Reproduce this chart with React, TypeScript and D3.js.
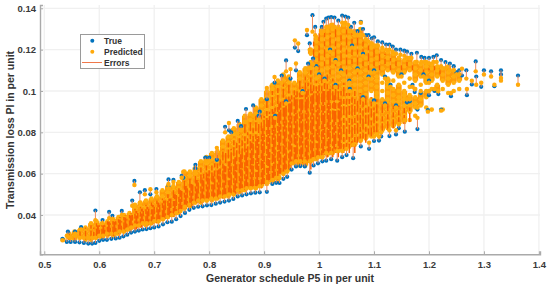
import React, { useRef, useEffect } from "react";
import * as d3 from "d3";

// losses are kept in milli per unit
const xTicks = [0.5, 0.6, 0.7, 0.8, 0.9, 1, 1.1, 1.2, 1.3, 1.4];
const yTicks = [40, 60, 80, 100, 120, 140];
const legendLabels = ["True", "Predicted", "Errors"];

// [P5, true, predicted] for points whose markers can be seen on the rim of the cloud
const lowerRim = [
  [.541,27,30],[.548,27,29],[.556,27,30],[.564,26.8,29],[.572,26.5,29],[.58,26.2,29],[.587,26.2,29],[.593,26.5,29],[.6,27.5,30],[.607,28,30],
  [.614,28,31],[.622,28.5,31],[.63,28.7,31],[.637,29,32],[.644,29.7,32],[.651,30.5,33],[.658,31.5,34],[.665,32,35],[.672,32.5,35],[.679,33,36],
  [.686,33.2,36],[.693,33.6,36],[.7,34,37],[.708,34.5,37],[.716,35.5,38],[.724,36.5,39],[.732,36.8,40],[.74,38,41],[.748,39.5,42],[.756,41,44],
  [.764,42.5,45],[.772,43.5,46],[.78,44,47],[.788,44.2,47],[.796,44.7,47],[.804,44.8,48],[.812,45.5,48],[.82,46,49],[.828,46.5,49],[.836,47,50],
  [.844,47.8,50],[.852,49,52],[.86,49.5,52],[.868,50,53],[.876,50.5,53],[.884,50.8,53],[.892,51,54],[.905,51.2,56],[.915,55,57],[.922,55.6,58],
  [.928,55.5,58],[.935,57.5,60],[.942,58.5,61],[.95,62,65],[.958,63.5,66],[.966,63.7,66],[.974,63.5,66],[.983,60.5,66],[.99,64,67],[.998,65,68],
  [1.006,66,68],[1.013,66.3,70],[1.022,67,70],[1.033,66.3,71],[1.042,68,71],[1.05,69,72],[1.062,67.5,74],[1.076,73.2,76],[1.091,72,75],[1.1,75.8,78],
  [1.109,76,78],[1.113,78,80],[1.128,78.2,81],[1.14,79,81],[1.145,82,84],[1.156,80.3,86],[1.179,81.6,87],[1.179,91,92],[1.198,90.7,90],[1.222,91,90.5],
  [1.16,94.5,96],[1.174,99.5,101],[1.2,98,100],[1.217,98.5,100],[1.24,97.5,99],[1.269,98,101],[1.278,103.2,105],[1.295,102,104],[1.319,102.3,103],
];

const upperRim = [
  [.983,123,120],[.993,131,127],[.988,136.7,128.7],[1.005,131,128],[1.008,133.5,129],[1.013,135,131],[1.017,135.5,131],[1.022,135.7,132],[1.028,135.5,131],
  [1.035,134,130],[1.042,136.5,133],[1.048,136,133],[1.053,135.5,132],[1.058,131,129],[1.064,133,128],[1.07,129,127],[1.076,133.5,133],[1.08,130,127],
  [1.085,127,125],[1.09,127,124],[1.096,125.5,123],[1.1,126,122],[1.107,124,122],[1.115,123.5,121],[1.122,122.5,120],[1.128,122.5,120],[1.134,121.5,119],
  [1.14,120,118],[1.148,120,117.5],[1.155,119.5,117],[1.16,119,116],[1.168,118,116],[1.178,118.5,114],[1.186,116.5,114],[1.192,116,114],[1.2,116,113.5],
  [1.208,116.5,114],[1.214,117.3,114],[1.222,115,112],[1.23,114,111],[1.238,113.3,110],[1.245,112,110],[1.255,110,108],
  [.98,113.2,111],[.989,115.7,113],[.962,119.3,123],[.956,121,124.5],[.978,127,129.5],[.94,114.8,109.5],[.958,110,113.3],[.948,106,110.6],[.932,107.5,104],[.919,104,106.8],
];

const leftRim = [
  [.829,82.7,80],[.836,81,84.5],[.84,80,78],[.852,85.5,79.5],[.858,83,81],[.867,91.3,85],[.88,93,88],[.892,90,85.8],[.89,88,86],[.905,96,101.5],
  [.793,67.8,66],[.8,67.8,66],[.814,66.7,72.5],[.775,64.3,61],[.775,62.5,60],[.753,58,61],[.75,59,58],[.726,57.2,55],[.735,57,56],[.726,54,53],
  [.704,52.6,51],[.693,50,52.5],[.683,52,50],[.674,51,46],[.664,56.5,54.5],[.66,47,44.5],[.641,42,40],[.618,41.5,38.5],[.624,39.6,38],[.593,42.2,37.5],
  [.606,37.6,36],[.567,34.2,33],[.556,32,31],[.543,32,29.5],[.533,28.5,27.8],
];

const outerRight = [
  [1.362,107.5,103],[1.331,110,106.3],[1.331,108,105],[1.313,109.5,107],[1.3,110,108],[1.285,114.3,109.5],[1.286,107,103],[1.268,110,106],[1.26,107.5,110.8],[1.25,109,108],
];

// markers of true values that show through inside the cloud
const innerSpecks = [
  [1,108,107],[1.01,106,105],[1.03,103,102],[1.056,101,100],[1.08,97,96],[1.1,95.5,94],[1.12,94,93],[1.14,93,92],[1.04,110,109],[1.055,105,104],
  [1.07,111,110],[1.09,107,106],[1.1,110,109],[1.12,107,106],[1.13,103,102],[1.15,108,107],[1.17,103,102],[1.19,108,107],[1.2,105,104],[1.21,100,101],
  [1.02,120,119],[1.03,115,114],[1.06,122,121],[1.08,118,117],[.995,112,111],[.97,100,99],[.94,95,94],[.92,88,87],[1.165,95,96],[1.185,99,100],
];

const coreX = [.535,.545,.555,.565,.575,.585,.595,.605,.615,.625,.635,.645,.655,.665,.675,.685,.695,.705,.715,.725,.735,.745,.755,.765,.775,.785,.795,.805,.815,.825,.835,.845,.855,.865,.875,.885,.895,.905,.915,.925,.935,.945,.955,.965,.975,.985,.995,1.005,1.015,1.025,1.035,1.045,1.055,1.065,1.075,1.085,1.095,1.105,1.115,1.125,1.135,1.145,1.155,1.165,1.175,1.185,1.195,1.205,1.215,1.225,1.235,1.245,1.255];

// predicted markers in each column of the cloud
const corePred = [
  [28],
  [29,31],
  [28,30,32],
  [29,31,33],
  [28,30,32,34],
  [28,31,34,36],
  [29,32,35,37],
  [29,31,34,36],
  [30,32,35,37],
  [30,33,36,38],
  [31,34,37,39],
  [32,35,38,40],
  [33,36,39,41],
  [34,37,40,43,45],
  [35,38,41,44,46],
  [35,38,41,44,47],
  [36,39,42,45,48],
  [37,40,43,46,49],
  [38,41,44,47,49,52],
  [39,42,45,48,51,54],
  [40,43,46,49,52,54],
  [41,44,47,50,53,56],
  [43,46,49,52,55,58,61],
  [44,47,50,53,56,59,61],
  [46,49,52,55,58,60,63],
  [46,49,52,55,58,61,63,66],
  [47,50,53,56,59,62,65,68],
  [47,50,53,56,59,62,64,67,70],
  [48,51,54,57,60,63,66,68,71],
  [49,52,55,58,61,64,67,70,73,76],
  [49,52,55,58,61,64,67,70,72,75,78],
  [50,53,56,59,62,65,68,71,74,76,79,82],
  [51,54,57,60,63,66,69,72,75,78,81,84],
  [52,55,58,61,64,67,70,73,76,79,82,85,88],
  [53,56,59,62,65,68,71,74,77,80,83,86,89],
  [53,56,59,62,65,68,71,74,77,80,83,86,89,92],
  [54,57,60,63,66,69,72,75,78,81,84,87,90,93,96],
  [55,58,61,64,67,70,73,76,79,82,85,88,91,94,97,100],
  [56,59,62,65,68,71,74,77,80,83,86,89,92,95,98,101,103],
  [57,60,63,66,69,72,75,78,81,84,87,90,93,96,99,102,105],
  [60,63,66,69,72,75,78,81,84,87,90,93,96,99,102,105,108],
  [62,65,68,71,74,77,80,83,86,89,92,95,98,101,104,107],
  [65,68,71,74,77,80,83,86,89,92,95,98,101,104],
  [64,67,70,73,76,79,82,85,88,91,94,97,100,103,106,109],
  [64,67,70,73,76,79,82,85,88,91,94,97,100,103,106,109,111],
  [66,69,72,75,78,81,84,87,90,93,96,99,102,105,108,111,114,118,120],
  [67,70,73,76,79,82,85,88,91,94,97,100,103,106,109,112,115,118,121,124,126],
  [68,71,74,77,80,83,86,89,92,95,98,101,104,107,110,113,116,119,122,125,128,130],
  [69,72,75,78,81,84,87,90,93,96,99,102,105,108,111,114,117,120,123,126,129,131],
  [70,73,76,79,82,85,88,91,94,97,100,103,106,109,112,115,118,121,124,127,130,132],
  [71,74,77,80,83,86,89,92,95,98,101,104,107,110,113,116,119,122,125,128,131],
  [72,75,78,81,84,87,90,93,96,99,102,105,108,111,114,117,120,123,126,129,132],
  [73,76,79,82,85,88,91,94,97,100,103,105,108,111,114,117,120,123,126,129,131],
  [74,77,80,83,86,89,92,95,98,100,103,106,109,112,115,118,121,124,127,129],
  [76,79,82,85,88,91,94,97,100,103,106,109,112,115,118,121,124,127,130],
  [77,80,83,86,89,92,95,98,101,104,107,110,113,116,119,122,125],
  [78,81,84,87,90,93,96,100,103,106,109,112,115,118,121,123],
  [79,82,85,88,91,94,97,99,102,105,107,110,113,116,119,122],
  [81,84,87,90,93,96,100,104,108,111,114,117,120],
  [82,85,88,91,94,96,99,102,104,106,110,113,116,119],
  [83,86,89,92,95,98,101,105,109,112,115,118],
  [84,87,90,93,95,97,100,103,107,110,113,116],
  [85,88,91,93,96,98,100,104,109,112,115],
  [86,90,93,95,98,102,106,110,113,116],
  [88,92,94,97,101,105,108,111,114],
  [93,96,99,103,107,110,113],
  [92,97,100,104,106,109,112,114],
  [91,101,105,108,111,113],
  [100,103,107,110,112],
  [91,101,105,108,111],
  [99,103,106,109,112],
  [100,104,107,110],
  [101,105,108],
];

// vertical error streaks in the dense parts of the cloud
const streakX = [.545,.555,.565,.575,.585,.595,.605,.615,.625,.635,.645,.655,.665,.675,.685,.695,.705,.715,.725,.735,.745,.755,.765,.775,.785,.795,.805,.815,.825,.835,.845,.855,.865,.875,.885,.895,.905,.915,.925,.935,.945,.955,.965,.975,.985,.995,1.005,1.015,1.025,1.035,1.045,1.055,1.065,1.075,1.085,1.095,1.105,1.115,1.125,1.135,1.145,1.155,1.165];
const streakLow = [28,28,28,28,28,29,29,30,30,31,32,33,33,34,35,35,36,38,39,39,41,43,44,46,46,47,47,48,48,49,50,51,52,53,53,53,55,56,57,60,62,65,64,63,62,67,67,68,68,68,70,70,70,75,75,78,80,80,81,82,83,84,85];
const streakHigh = [31,32,33,34,35,36,36,37,38,38,39,40,43,44,45,46,47,48,50,52,53,58,58,60,63,65,65,69,72,75,78,80,84,85,88,90,96,100,103,105,103,102,105,107,110,105,108,108,106,105,104,102,100,99,98,97,96,94,94,93,93,92,92];

const denseX = [.59,.6,.61,.62,.63,.64,.65,.66,.67,.68,.69,.7,.71,.72,.73,.74,.75,.76,.77,.78,.79,.8,.81,.82,.83,.84,.85,.86,.87,.88,.89,.9,.91,.92,.93,.94,.95,.96,.97,.98,.99,1,1.01,1.02,1.03,1.04,1.05,1.06,1.07,1.08,1.09,1.1];
const denseLow = [29,30,30,31,31,32,33,33,34,35,35,36,37,38,39,40,42,44,45,46,47,48,48,49,50,50,51,52,53,54,54,55,57,58,60,62,64,65,65,66,68,68,69,70,70,72,72,73,75,77,79,80];
const denseHigh = [34,35,35,36,37,37,38,40,41,42,43,44,45,47,48,50,52,53,55,57,60,62,65,67,70,72,75,78,80,82,84,88,90,92,96,98,98,100,102,104,103,104,104,102,102,100,99,97,96,95,94,92];

const bandX = [.5975,.6075,.6175,.6275,.6375,.6475,.6575,.6675,.6775,.6875,.6975,.7075,.7175,.7275,.7375,.7475,.7575,.7675,.7775,.7875,.7975,.8075,.8175,.8275,.8375,.8475,.8575,.8675,.8775,.8875,.8975,.9075,.9175,.9275,.9375,.9475,.9575,.9675,.9775,.9875,.9975,1.0075,1.0175,1.0275,1.0375];
const bandLow = [29,29,30,30,31,32,33,33,34,35,36,36,38,39,40,41,43,44,46,46,47,48,48,49,50,50,51,52,53,54,55,56,58,60,62,64,66,66,66,68,68,70,70,72,72];
const bandHigh = [35,36,37,38,39,40,41,42,43,44,45,46,47,48,50,52,54,55,57,58,60,60,62,64,66,68,70,72,75,78,82,86,90,94,96,96,98,100,100,100,100,100,100,98,96];

const upperX = [.99,1,1.01,1.02,1.03,1.04,1.05,1.06,1.07,1.08,1.09,1.1,1.11,1.12,1.13,1.14,1.15,1.16,1.17,1.18,1.19,1.2,1.21,1.22];
const upperLow = [112,110,112,108,112,110,108,113,108,112,110,112,110,113,110,112,110,112,110,112,108,110,110,108];
const upperHigh = [124,128,130,128,131,127,130,128,128,124,122,121,118,118,116,116,114,114,113,112,112,111,112,110];

const W = 550;
const H = 288;
const BLUE = "#0072bd";
const YELLOW = "#ffa90a";
const RED = "#f96200";
const font = "'Liberation Sans', Arial, sans-serif";

const App = () => {
  const svgRef = useRef<SVGSVGElement | null>(null);

  useEffect(() => {
    const svg = d3.select(svgRef.current);
    svg.selectAll("*").remove();

    const x = d3.scaleLinear().domain([0.4922, 1.402]).range([40, 540]);
    const y = d3.scaleLinear().domain([21, 141.6]).range([254.3, 5]);

    // grid
    const grid = svg.append("g").attr("stroke", "#f0f0f0").attr("stroke-width", 1.3);
    xTicks.forEach((t) => grid.append("line").attr("x1", x(t)).attr("x2", x(t)).attr("y1", y(21)).attr("y2", y(141.6)));
    yTicks.forEach((t) => grid.append("line").attr("x1", x(0.4922)).attr("x2", x(1.402)).attr("y1", y(t)).attr("y2", y(t)));

    // axes
    const xAxis = svg
      .append("g")
      .attr("transform", "translate(0,254.3)")
      .call(d3.axisBottom(x).tickValues(xTicks).tickSize(-3).tickPadding(7).tickFormat((d) => String(d)));
    const yAxis = svg
      .append("g")
      .attr("transform", "translate(40,0)")
      .call(d3.axisLeft(y).tickValues(yTicks).tickSize(-3).tickPadding(4).tickFormat((d) => String(+d / 1000)));
    [xAxis, yAxis].forEach((a) => {
      a.select(".domain").attr("stroke", "#aaaaaa").attr("stroke-width", 1.4);
      a.selectAll(".tick line").attr("stroke", "#aaaaaa").attr("stroke-width", 1);
      a.selectAll("text").attr("font-family", font).attr("font-size", 9.5).attr("font-weight", "bold").attr("fill", "#3a3a3a");
    });

    // cloud body: neighbouring predicted markers overlap into a solid mass
    const mass = svg.append("g").attr("fill", "#ff9a06");
    corePred.forEach((col, i) => {
      d3.pairs(col).forEach(([a, b]) => {
        if (b - a > 3.5) return;
        mass.append("rect").attr("x", x(coreX[i]) - 2.9).attr("width", 5.8).attr("y", y(b)).attr("height", y(a) - y(b));
      });
    });
    const body = svg.append("g").attr("fill", "#ffae0c");
    corePred.forEach((col, i) => {
      col.forEach((v) => body.append("circle").attr("cx", x(coreX[i])).attr("cy", y(v)).attr("r", 2.3));
    });
    const streaks = svg.append("g").attr("stroke", RED);
    const drawStreaks = (xs: number[], lo: number[], hi: number[], dash: string, width: number) => {
      xs.forEach((v, i) => {
        streaks.append("line").attr("x1", x(v)).attr("x2", x(v)).attr("y1", y(lo[i])).attr("y2", y(hi[i]))
          .attr("stroke-dasharray", dash).attr("stroke-width", width);
      });
    };
    drawStreaks(streakX, streakLow, streakHigh, "9 2 5 3", 1.5);
    drawStreaks(denseX, denseLow, denseHigh, "6 3 11 2", 1.5);
    drawStreaks(bandX, bandLow, bandHigh, "14 2 7 1", 2);
    drawStreaks(upperX, upperLow, upperHigh, "5 4 8 3", 1.3);

    // visible true / predicted pairs
    const rim = [...lowerRim, ...upperRim, ...leftRim, ...outerRight, ...innerSpecks];
    svg.append("g").attr("fill", BLUE).selectAll("circle").data(rim).join("circle")
      .attr("cx", (d) => x(d[0])).attr("cy", (d) => y(d[1])).attr("r", 2.1);
    svg.append("g").attr("stroke", "#ee8a5c").attr("stroke-width", 1).selectAll("line").data(rim).join("line")
      .attr("x1", (d) => x(d[0])).attr("x2", (d) => x(d[0]))
      .attr("y1", (d) => y(d[1]) ).attr("y2", (d) => y(d[2]));
    svg.append("g").attr("fill", YELLOW).selectAll("circle").data(rim).join("circle")
      .attr("cx", (d) => x(d[0])).attr("cy", (d) => y(d[2])).attr("r", 2.2);

    // titles
    svg.append("text").attr("x", 290).attr("y", 281.5).attr("text-anchor", "middle")
      .attr("font-family", font).attr("font-size", 10.5).attr("font-weight", "bold").attr("fill", "#333")
      .text("Generator schedule P5 in per unit");
    svg.append("text").attr("transform", "translate(14,130) rotate(-90)").attr("text-anchor", "middle")
      .attr("font-family", font).attr("font-size", 10.5).attr("font-weight", "bold").attr("fill", "#333")
      .text("Transmission loss Pl in per unit");

    // legend
    const legend = svg.append("g");
    legend.append("rect").attr("x", 80.5).attr("y", 34.5).attr("width", 64).attr("height", 34)
      .attr("fill", "white").attr("stroke", "#9a9a9a").attr("stroke-width", 1);
    const rows = [40.7, 51.7, 62.5];
    legend.append("circle").attr("cx", 92.3).attr("cy", rows[0]).attr("r", 2).attr("fill", BLUE);
    legend.append("circle").attr("cx", 92.3).attr("cy", rows[1]).attr("r", 2).attr("fill", YELLOW);
    legend.append("line").attr("x1", 82).attr("x2", 102).attr("y1", rows[2]).attr("y2", rows[2]).attr("stroke", "#f0784a").attr("stroke-width", 1);
    legendLabels.forEach((t, i) => {
      legend.append("text").attr("x", 104).attr("y", rows[i] + 3).attr("font-family", font)
        .attr("font-size", 8.5).attr("font-weight", "bold").attr("fill", "#333").text(t);
    });
  }, []);

  return <svg ref={svgRef} width={W} height={H} style={{ position: "absolute", left: 0, top: 0, background: "white" }} />;
};

export default App;
